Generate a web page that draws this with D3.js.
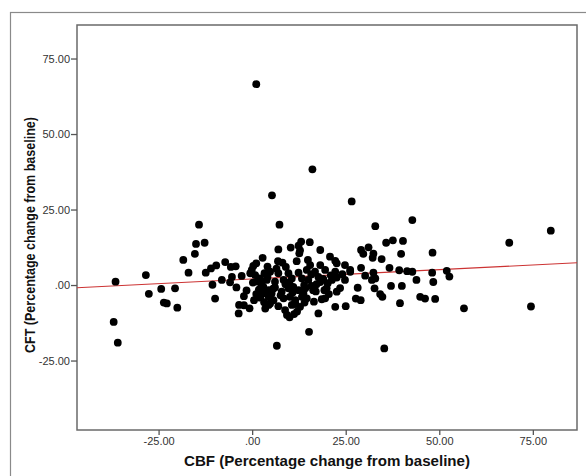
<!DOCTYPE html>
<html>
<head>
<meta charset="utf-8">
<script src="https://cdn.jsdelivr.net/npm/d3@7"></script>
<style>
  body { margin: 0; background: #fff; }
  svg { display: block; }
</style>
</head>
<body>
<div class="vis-scatter"></div>
<script>
// CBF change (x) and CFT change (y), percent from baseline
const cbfChange = [
  -36.5, -37.0, -35.9, -28.4, -27.6, -24.3, -23.6, -22.8, -20.6, -20.0,
  -18.4, -17.0, -15.3, -15.0, -14.2, -12.7, -12.4, -11.0, -9.6, -10.6,
  -9.9, -8.1, -7.2, -5.7, -4.4, -5.4, -5.9, -4.2, -2.2, -3.5,
  -2.2, -3.6, -0.7, -0.1, 1.1, -0.5, 0.8, 2.1, 1.4, 3.3,
  4.1, 4.1, 1.1, 3.0, 0.5, 3.2, 4.4, 0.3, 5.3, 7.3,
  7.0, 10.3, 12.4, 13.1, 15.4, 12.6, 18.2, 6.9, 8.1, 11.9,
  14.9, 15.5, 18.2, 20.8, 22.2, 22.6, 24.8, 26.2, 24.8, 4.8,
  7.0, 9.7, 12.4, 14.6, 16.8, 19.5, 22.2, 24.1, 3.9, 6.1,
  8.4, 10.6, 13.3, 15.0, 17.7, 21.3, 22.6, 4.4, 6.1, 7.9,
  9.7, 11.0, 12.4, 14.2, 15.9, 19.9, 22.6, 4.4, 5.7, 8.4,
  10.1, 11.5, 13.3, 14.6, 19.5, 4.8, 7.0, 10.6, 12.8, 18.6,
  22.2, 25.0, 9.3, 10.0, 17.7, 15.2, 6.6, 16.1, 1.1, 19.3,
  3.0, 8.8, 16.3, 18.2, 26.6, 42.8, 32.9, 35.8, 37.6, 40.3,
  31.1, 29.1, 29.7, 32.4, 32.2, 34.6, 39.8, 48.2, 29.1, 26.2,
  36.7, 39.3, 41.4, 42.8, 32.4, 30.2, 32.0, 32.9, 48.1, 43.9,
  48.4, 52.0, 52.7, 28.2, 32.7, 37.1, 40.0, 34.2, 34.8, 27.7,
  29.0, 44.9, 46.2, 48.9, 39.5, 56.6, 35.3, 68.7, 79.8, 74.5,
  1.8, 2.5, 5.2, 8.9, 10.8, 12.0, 13.7, 16.5, 17.2, 20.5,
  21.0, 6.5, 9.0, 14.0, 11.2, 15.8, 3.5, 19.0, 23.5, -1.5,
  0.2, -2.8, 2.8, 12.8, 7.6, 9.9, 13.9, 17.0, 5.6, 11.6,
  2.2, 20.2
];
const cftChange = [
  1.1, -12.2, -19.1, 3.3, -2.9, -1.3, -5.8, -6.1, -1.1, -7.5,
  8.3, 4.1, 10.3, 13.6, 20.0, 14.0, 4.1, 5.5, 6.5, 0.1,
  -4.5, 1.7, 7.6, 6.0, 6.2, 2.7, 0.9, -0.8, -3.7, -6.6,
  -6.7, -9.4, -7.7, 5.0, 7.2, 3.9, 3.3, 2.2, 1.1, 3.9,
  6.1, 2.7, -3.0, -2.7, -5.0, -5.7, -6.6, 6.3, 29.7, 20.0,
  11.8, 12.4, 13.0, 14.4, 14.2, 10.5, 11.6, 7.9, 7.4, 7.9,
  8.3, 6.6, 6.6, 9.4, 8.0, 7.2, 6.6, 5.0, 1.7, 4.4,
  3.9, 3.9, 4.1, 5.0, 4.4, 5.0, 4.4, 3.6, 1.7, 1.1,
  1.7, 2.2, 2.2, 1.7, 2.7, 1.7, 2.5, -1.7, -0.8, -2.2,
  -1.1, -0.6, -1.7, -1.1, -0.3, -1.1, -2.2, -3.9, -5.0, -4.4,
  -3.9, -5.0, -3.9, -4.4, -4.4, -6.1, -7.0, -6.6, -7.2, -4.7,
  -7.2, -7.0, -9.9, -10.7, -9.4, -15.5, -20.1, 38.3, 66.5, -1.7,
  -0.6, -8.3, -1.7, 1.0, 27.7, 21.5, 19.5, 14.0, 14.8, 14.6,
  12.5, 11.6, 10.3, 10.4, 9.0, 8.6, 10.3, 10.7, 5.7, 4.4,
  5.7, 4.9, 4.6, 4.4, 4.1, 3.1, 1.7, 2.2, 4.1, 1.7,
  1.0, 4.7, 2.8, -0.9, -1.1, -0.3, -0.3, -3.0, -3.9, -4.5,
  -5.0, -3.9, -4.5, -4.6, -6.0, -7.7, -21.0, 14.0, 18.0, -7.1,
  -1.5, 0.2, -2.8, 0.3, -2.5, -8.8, -2.8, -5.5, 0.3, -3.0,
  3.2, 5.4, 6.0, -5.8, -9.6, 3.5, -7.8, 2.0, -1.0, -1.8,
  0.8, 3.0, 9.0, 11.5, -3.4, 0.9, 0.0, -2.1, -1.2, -6.3,
  -4.2, 0.6
];

// axis tick values and the fit line
const xTicks = [-25, 0, 25, 50, 75];
const yTicks = [-25, 0, 25, 50, 75];
const xDomain = [-46.8, 86.8];
const yDomain = [-48.0, 86.1];
const fitIntercept = 2.0;
const fitSlope = 0.062;

const xTitle = "CBF (Percentage change from baseline)";
const yTitle = "CFT (Percentage change from baseline)";

const width = 586;
const height = 476;
const margin = { top: 25, right: 9, bottom: 46, left: 77 };
const plotW = width - margin.left - margin.right;
const plotH = height - margin.top - margin.bottom;

const fmt = d => d === 0 ? ".00" : d.toFixed(2);
const font = '"Liberation Sans", Arial, sans-serif';

const root = d3.select('.vis-scatter').append('svg')
    .attr('width', width)
    .attr('height', height);

// outer chart border (runs off the right and bottom edge)
root.append('rect')
    .attr('x', 10.5).attr('y', 12.5)
    .attr('width', 620).attr('height', 520)
    .attr('fill', 'none')
    .attr('stroke', '#8a8a8a')
    .attr('stroke-width', 1.2);

const svg = root.append('g')
    .attr('transform', 'translate(' + margin.left + ',' + margin.top + ')');

const x = d3.scaleLinear().domain(xDomain).range([0, plotW]);
const y = d3.scaleLinear().domain(yDomain).range([plotH, 0]);

// plot frame
svg.append('rect')
    .attr('width', plotW).attr('height', plotH)
    .attr('fill', '#fff')
    .attr('stroke', '#6a6a6a')
    .attr('stroke-width', 1.5);

// axes
const xAxis = svg.append('g')
    .attr('transform', 'translate(0,' + plotH + ')')
    .call(d3.axisBottom(x).tickValues(xTicks).tickFormat(fmt).tickSize(5).tickSizeOuter(0));
const yAxis = svg.append('g')
    .call(d3.axisLeft(y).tickValues(yTicks).tickFormat(fmt).tickSize(6).tickSizeOuter(0));

[xAxis, yAxis].forEach(g => {
    g.select('.domain').remove();
    g.selectAll('.tick line').attr('stroke', '#555').attr('stroke-width', 1.3);
    g.selectAll('.tick text')
        .attr('fill', '#333')
        .style('font-family', font)
        .style('font-size', '11px');
});
xAxis.selectAll('.tick text').attr('y', 7).attr('dy', '0.75em');
yAxis.selectAll('.tick text').attr('x', -7);

// fit line
svg.append('line')
    .attr('x1', x(xDomain[0])).attr('y1', y(fitIntercept + fitSlope * xDomain[0]))
    .attr('x2', x(xDomain[1])).attr('y2', y(fitIntercept + fitSlope * xDomain[1]))
    .attr('stroke', '#cc3333')
    .attr('stroke-width', 1.1);

// points
const points = cbfChange.map((v, i) => ({ cbf: v, cft: cftChange[i] }));
svg.append('g')
    .selectAll('circle')
    .data(points)
    .join('circle')
    .attr('cx', d => x(d.cbf))
    .attr('cy', d => y(d.cft))
    .attr('r', 3.9)
    .attr('fill', '#000');

// titles
root.append('text')
    .attr('x', margin.left + plotW / 2)
    .attr('y', 466)
    .attr('text-anchor', 'middle')
    .attr('textLength', 286)
    .attr('lengthAdjust', 'spacingAndGlyphs')
    .style('font-family', font)
    .style('font-weight', 'bold')
    .style('font-size', '14px')
    .attr('fill', '#111')
    .text(xTitle);

root.append('text')
    .attr('transform', 'translate(35,235) rotate(-90)')
    .attr('text-anchor', 'middle')
    .attr('textLength', 236)
    .attr('lengthAdjust', 'spacingAndGlyphs')
    .style('font-family', font)
    .style('font-weight', 'bold')
    .style('font-size', '14px')
    .attr('fill', '#111')
    .text(yTitle);
</script>
</body>
</html>
